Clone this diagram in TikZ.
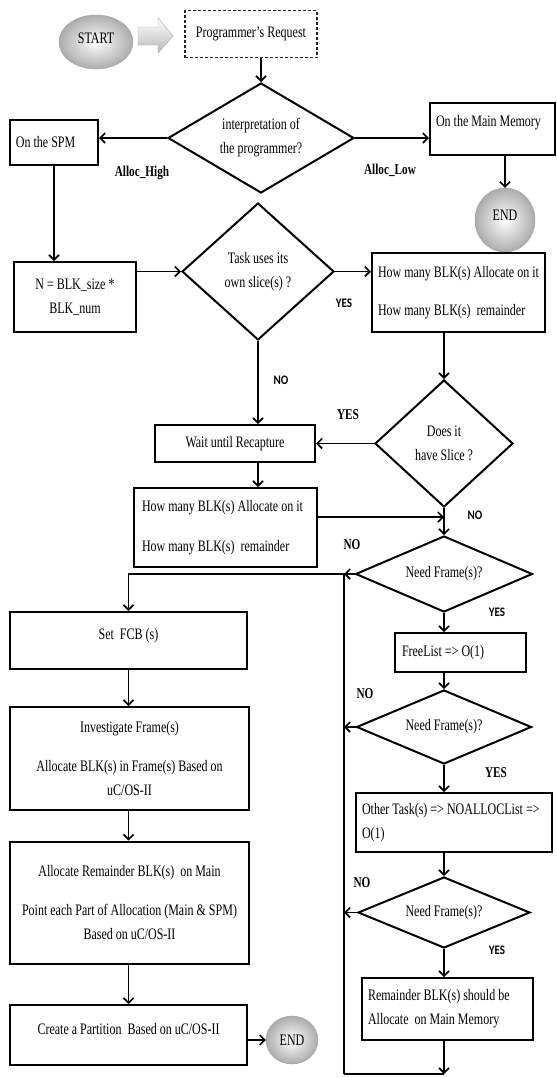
\documentclass[tikz,border=0pt]{standalone}
\usepackage{fontspec}
\setmainfont{Liberation Serif}[FakeStretch=0.75]
\newfontfamily\ynfont{Carlito}[FakeStretch=0.85]
\usetikzlibrary{shapes.geometric,arrows.meta}

\tikzset{
  box/.style={draw,rectangle,line width=2pt,inner sep=0pt,align=center},
  lbox/.style={box,align=flush left},
  dec/.style={draw,diamond,line width=2pt,inner sep=0pt,align=center},
  ball/.style={ellipse,shading=radial,inner color=white,outer color=gray!65,draw=gray!75,thin,inner sep=0pt},
  arr/.style={line width=1.6pt,-{Straight Barb[length=5pt,width=10pt]}},
  line/.style={line width=1.6pt},
  lbl/.style={font=\fontsize{15}{18}\selectfont\bfseries},
  yn/.style={font=\ynfont\fontsize{13}{15}\selectfont\bfseries},
}

\begin{document}
\begin{tikzpicture}[x=1pt,y=-1pt,font=\fontsize{16}{24}\selectfont]
\fill[white] (0,0) rectangle (557,1077);
\useasboundingbox (0,0) rectangle (557,1077);

% top part
\node[ball,minimum width=74,minimum height=54,text depth=8pt] (start) at (96,42) {START};
\shade[top color=white,bottom color=gray!55,draw=gray!70,thin]
  (138,27) -- (158,27) -- (158,18) -- (173,36) -- (158,53) -- (158,45) -- (138,45) -- cycle;
\node[draw=black!85,line width=1.2pt,dash pattern=on 3pt off 2pt,minimum width=132,minimum height=47] (req) at (251,34) {Programmer’s Request};
\node[dec,aspect=1.69,minimum width=186,minimum height=110] (d1) at (261,138) {interpretation of\\the programmer?};
\node[lbox,text width=76,minimum width=88,minimum height=45] (spm) at (54,142.5) {On the SPM};
\node[lbox,text width=113,minimum width=125,minimum height=52,text depth=16pt] (mainmem) at (492.5,129) {On the Main Memory};
\node[ball,minimum width=60,minimum height=64,text depth=10pt] (end1) at (505,220) {END};
\node[lbl] (alloch) at (142,173) {Alloc\_High};
\node[lbl] (allocl) at (390,170) {Alloc\_Low};

\node[box,minimum width=122,minimum height=70] (nbox) at (75,297) {N = BLK\_size *\\BLK\_num};
\node[dec,aspect=1.11,minimum width=152,minimum height=137] (d2) at (258,271.5) {Task uses its\\own slice(s) ?};
\node[lbox,text width=161,minimum width=173,minimum height=79] (howR) at (458.5,292.5)
  {How many BLK(s) Allocate on it\\[14pt]How many BLK(s)~ remainder};
\node[dec,aspect=1.09,minimum width=138,minimum height=127] (d3) at (444,443.5) {Does it\\have Slice ?};
\node[box,minimum width=160,minimum height=37] (wait) at (235,443.5) {Wait until Recapture};
\node[lbox,text width=167,minimum width=183,minimum height=79] (howL) at (225.5,527.5)
  {How many BLK(s) Allocate on it\\[16pt]How many BLK(s)~ remainder};
\node[yn] (yes1) at (344,303) {YES};
\node[yn] (no1) at (281,380) {NO};
\node[lbl] (yes2) at (348,415) {YES};
\node[yn] (no2) at (475,515) {NO};

% right column
\node[dec,aspect=2.33,minimum width=177,minimum height=76] (d4) at (444,574) {Need Frame(s)?};
\node[lbox,text width=117,minimum width=131,minimum height=39] (freel) at (460.5,652.5) {FreeList => O(1)};
\node[dec,aspect=2.36,minimum width=175,minimum height=74] (d5) at (444,727) {Need Frame(s)?};
\node[lbox,text width=184,minimum width=196,minimum height=59] (other) at (454,822.5)
  {Other Task(s) => NOALLOCList =>\\O(1)};
\node[dec,aspect=2.42,minimum width=172,minimum height=71] (d6) at (444,912.5) {Need Frame(s)?};
\node[lbox,text width=159,minimum width=171,minimum height=62] (remain) at (447.5,1009)
  {Remainder BLK(s) should be\\Allocate~ on Main Memory};
\node[lbl] (no3) at (352,545) {NO};
\node[yn] (yes3) at (497,612) {YES};
\node[lbl] (no4) at (365,694) {NO};
\node[lbl] (yes4) at (496,773) {YES};
\node[lbl] (no5) at (362,883) {NO};
\node[yn] (yes5) at (497,950) {YES};

% left column
\node[box,minimum width=237,minimum height=57,text depth=14pt] (setfcb) at (128.5,640.5) {Set~ FCB (s)};
\node[box,minimum width=239,minimum height=103] (invest) at (129.5,758.5)
  {Investigate Frame(s)\\[15pt]Allocate BLK(s) in Frame(s) Based on\\uC/OS-II};
\node[box,minimum width=239,minimum height=122] (allocrem) at (129.5,902.5)
  {Allocate Remainder BLK(s)~ on Main\\[15pt]Point each Part of Allocation (Main \& SPM)\\Based on uC/OS-II};
\node[box,minimum width=237,minimum height=60,text depth=12pt] (create) at (128.5,1035) {Create a Partition~ Based on uC/OS-II};
\node[ball,minimum width=52,minimum height=48] (end2) at (292,1040) {END};

\coordinate (ltop) at (344,574);
\coordinate (lbot) at (344,1074);
\coordinate (join) at (444,517);

% connectors
\draw[arr] (req.south -| d1.north) -- (d1.north);
\draw[arr] (d1.west) -- (d1.west -| spm.east);
\draw[arr] (d1.east) -- (d1.east -| mainmem.west);
\draw[arr] (mainmem.south -| end1) -- (end1.north);
\draw[arr] (spm.south) -- (spm.south |- nbox.north);
\draw[arr] (nbox.east |- d2.west) -- (d2.west);
\draw[arr] (d2.east) -- (d2.east -| howR.west);
\draw[arr] (howR.south -| d3.north) -- (d3.north);
\draw[arr] (d2.south) -- (d2.south |- wait.north);
\draw[arr] (d3.west) -- (d3.west -| wait.east);
\draw[arr] (wait.south -| d2.south) -- (d2.south |- howL.north);
\draw[arr] (howL.east |- join) -- (join);
\draw[arr] (d3.south) -- (d4.north);
\draw[arr] (d4.south) -- (d4.south |- freel.north);
\draw[arr] (d4.south |- freel.south) -- (d5.north);
\draw[arr] (d5.south) -- (d5.south |- other.north);
\draw[arr] (d5.south |- other.south) -- (d6.north);
\draw[arr] (d6.south) -- (d6.south |- remain.north);
\draw[arr] (d4.west) -- (ltop);
\draw[arr] (d5.west) -- (d5.west -| ltop);
\draw[arr] (d6.west) -- (d6.west -| ltop);
\draw[arr] (d6.south |- remain.south) -- (d6.south |- lbot);
\draw[line] (d6.south |- lbot) -- (lbot);
\draw[arr] (lbot) -- (ltop) -| (setfcb.north);
\draw[arr] (setfcb.south) -- (setfcb.south |- invest.north);
\draw[arr] (setfcb.south |- invest.south) -- (setfcb.south |- allocrem.north);
\draw[arr] (setfcb.south |- allocrem.south) -- (setfcb.south |- create.north);
\draw[arr] (create.east |- end2) -- (end2.west);
\end{tikzpicture}
\end{document}
